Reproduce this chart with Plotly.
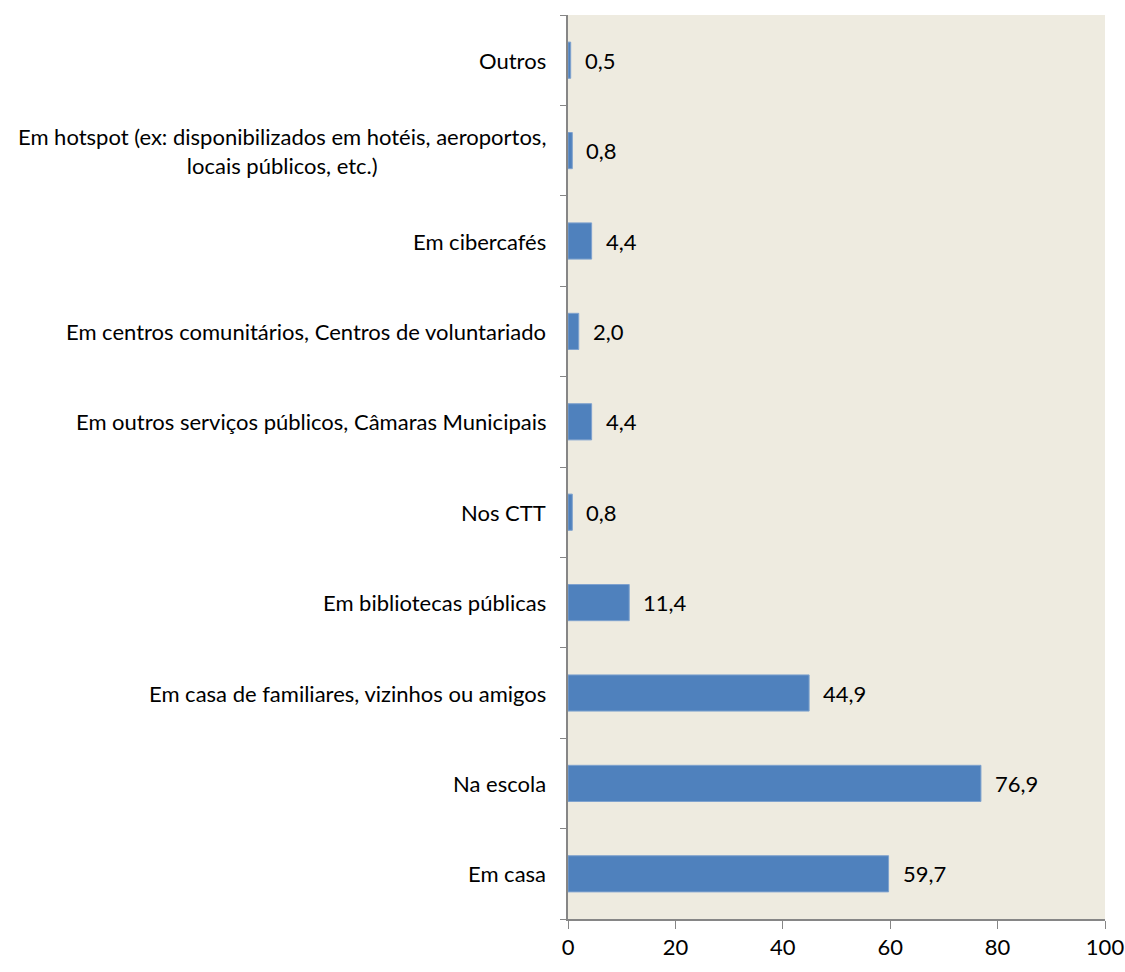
import plotly.graph_objects as go

categories = [
    "Em casa",
    "Na escola",
    "Em casa de familiares, vizinhos ou amigos",
    "Em bibliotecas públicas",
    "Nos CTT",
    "Em outros serviços públicos, Câmaras Municipais",
    "Em centros comunitários, Centros de voluntariado",
    "Em cibercafés",
    "Em hotspot (ex: disponibilizados em hotéis, aeroportos,<br>locais públicos, etc.)",
    "Outros",
]
values = [59.7, 76.9, 44.9, 11.4, 0.8, 4.4, 2.0, 4.4, 0.8, 0.5]
x_ticks = [0, 20, 40, 60, 80, 100]

FONT = "Lato, Carlito, 'Liberation Sans Narrow', sans-serif"
FS = 22

fig = go.Figure()
fig.add_trace(go.Bar(
    y=list(range(len(categories))),
    x=values,
    orientation="h",
    marker=dict(color="#4F81BD", line=dict(color="#7FA2CE", width=1)),
    width=0.4,
    hoverinfo="skip",
))

annotations = []
for i, (c, v) in enumerate(zip(categories, values)):
    annotations.append(dict(
        x=0, y=i, xref="paper", yref="y", text=c, showarrow=False,
        xanchor="right", yanchor="middle", align="center", xshift=-20,
        font=dict(family=FONT, size=FS, color="#000000"),
    ))
    annotations.append(dict(
        x=v, y=i, xref="x", yref="y", text=f"{v:.1f}".replace(".", ","),
        showarrow=False, xanchor="left", yanchor="middle", xshift=12,
        font=dict(family=FONT, size=FS, color="#000000"),
    ))

fig.update_layout(
    width=1125, height=972,
    margin=dict(l=568, r=20, t=15, b=53, autoexpand=False),
    paper_bgcolor="white",
    plot_bgcolor="#EEEBE0",
    showlegend=False,
    annotations=annotations,
    xaxis=dict(
        range=[0, 100], tickvals=x_ticks, ticktext=[str(t) for t in x_ticks],
        showgrid=False, zeroline=False, showline=True, linecolor="#868686", linewidth=2,
        ticks="outside", ticklen=8, tickcolor="#868686", tickwidth=1,
        tickfont=dict(family=FONT, size=FS, color="#000000"),
        automargin=False, fixedrange=True,
    ),
    yaxis=dict(
        range=[-0.5, len(categories) - 0.5],
        tickvals=[i - 0.5 for i in range(len(categories) + 1)],
        ticktext=[""] * (len(categories) + 1),
        showgrid=False, zeroline=False, showline=True, linecolor="#868686", linewidth=2,
        ticks="outside", ticklen=6, tickcolor="#868686", tickwidth=1,
        automargin=False, fixedrange=True,
    ),
)

fig.write_html("out.html")
